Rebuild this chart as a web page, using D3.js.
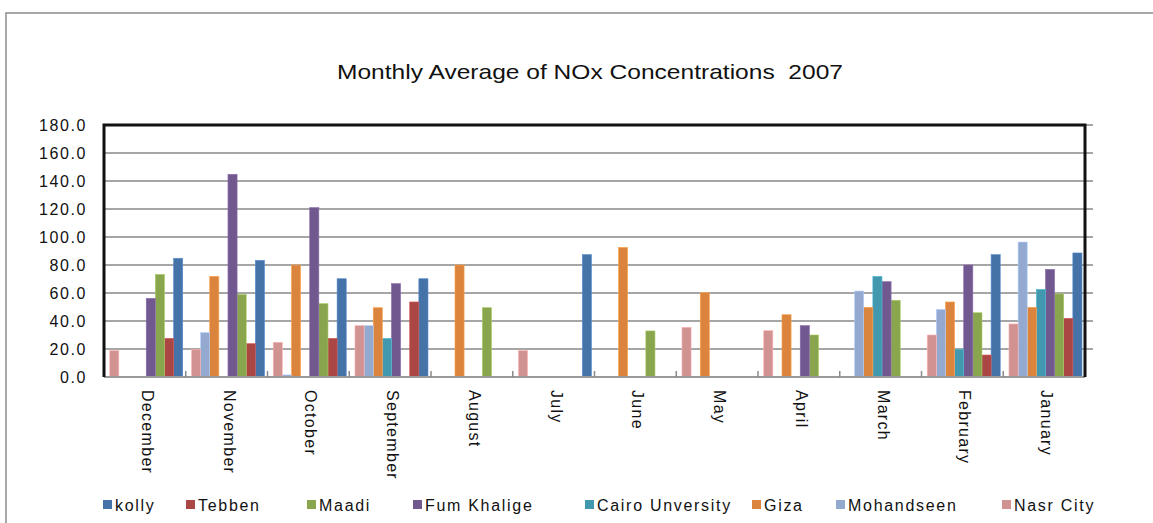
<!DOCTYPE html>
<html>
<head>
<meta charset="utf-8">
<script src="https://cdn.jsdelivr.net/npm/d3@7"></script>
<style>
  html, body { margin: 0; padding: 0; background: #fff; }
  svg { display: block; font-family: "Liberation Sans", Arial, sans-serif; }
</style>
</head>
<body>
<svg id="chart" width="1153" height="523"></svg>
<script>
// Monthly average NOx concentrations, 2007 (null = no measurement)
const months = ["December", "November", "October", "September", "August", "July",
                "June", "May", "April", "March", "February", "January"];
const seriesNames = ["kolly", "Tebben", "Maadi", "Fum Khalige", "Cairo Unversity",
                     "Giza", "Mohandseen", "Nasr City"];
const kolly          = [84.8, 83.3, 70.2, 70.2, null, 87.4, null, null, null, null, 87.4, 88.6];
const tebben         = [27.6, 23.8, 27.6, 53.6, null, null, null, null, null, null, 15.7, 41.9];
const maadi          = [73.3, 59.0, 52.4, null, 49.5, null, 32.9, null, 30.0, 54.8, 45.9, 59.3];
const fumKhalige     = [56.2, 144.8, 121.0, 66.7, null, null, null, null, 36.7, 68.1, 80.0, 76.9];
const cairoUnversity = [null, null, null, 27.6, null, null, null, null, null, 71.9, 19.8, 62.6];
const giza           = [null, 71.9, 80.0, 49.5, 80.0, null, 92.6, 60.2, 44.5, 49.8, 53.6, 49.8];
const mohandseen     = [null, 31.7, 1.5, 36.7, null, null, null, null, null, 61.4, 48.3, 96.4];
const nasrCity       = [18.8, 19.8, 24.8, 36.7, null, 18.8, null, 35.5, 33.1, null, 30.0, 37.9];
const yTicks = [0, 20, 40, 60, 80, 100, 120, 140, 160, 180];

const seriesValues = [kolly, tebben, maadi, fumKhalige, cairoUnversity, giza, mohandseen, nasrCity];
const colors = ["#4572A7", "#AA4643", "#89A54E", "#71588F", "#4198AF", "#DB843D", "#93A9CF", "#D19392"];

const svg = d3.select("#chart");
const plot = { left: 104, right: 1085, top: 125, bottom: 377 };

// outer frame
svg.append("path")
  .attr("d", `M6,523 V13 H1153`)
  .attr("fill", "none").attr("stroke", "#8c8c8c").attr("stroke-width", 1.5);

// title
svg.append("text")
  .attr("x", 337).attr("y", 79)
  .attr("font-size", 21)
  .attr("textLength", 506).attr("lengthAdjust", "spacingAndGlyphs")
  .style("white-space", "pre")
  .attr("fill", "#111")
  .text("Monthly Average of NOx Concentrations  2007");

const x0 = d3.scaleBand().domain(months).range([plot.left, plot.right]).padding(0);
const bw = x0.bandwidth();
// bars inside each month run from Nasr City (left) to kolly (right)
const x1 = d3.scaleBand().domain(seriesNames.slice().reverse())
  .range([bw * 0.07, bw * 0.963]).padding(0);
const y = d3.scaleLinear().domain([0, 180]).range([plot.bottom, plot.top]);

// gridlines (extend a little past the right edge like tick marks)
svg.append("g").selectAll("line").data(yTicks.filter(d => d > 0)).join("line")
  .attr("x1", plot.left).attr("x2", plot.right + 8)
  .attr("y1", d => y(d)).attr("y2", d => y(d))
  .attr("stroke", "#a6a6a6").attr("stroke-width", 2);

// y labels
const yAxis = d3.axisLeft(y).tickValues(yTicks).tickFormat(d3.format(".1f")).tickSize(0).tickPadding(17);
const gy = svg.append("g").attr("transform", `translate(${plot.left},0)`).call(yAxis);
gy.select(".domain").remove();
gy.selectAll("text").attr("font-size", 16).attr("fill", "#111")
  .attr("font-family", "Liberation Sans, Arial, sans-serif")
  .style("letter-spacing", "1.6px");

// bars
const rows = months.map((m, i) => ({
  month: m,
  vals: seriesNames.map((s, k) => ({ name: s, value: seriesValues[k][i], color: colors[k] }))
}));
const groups = svg.append("g").selectAll("g").data(rows).join("g")
  .attr("transform", d => `translate(${x0(d.month)},0)`);
groups.selectAll("rect").data(d => d.vals.filter(v => v.value != null)).join("rect")
  .attr("x", d => x1(d.name))
  .attr("width", x1.bandwidth())
  .attr("y", d => y(d.value))
  .attr("height", d => y(0) - y(d.value))
  .attr("fill", d => d.color)
  .attr("stroke", d => d3.color(d.color).brighter(0.6))
  .attr("stroke-width", 0.6);

// bottom axis with inward category ticks
svg.append("line")
  .attr("x1", plot.left).attr("x2", plot.right)
  .attr("y1", plot.bottom).attr("y2", plot.bottom)
  .attr("stroke", "#9a9a9a").attr("stroke-width", 2);
svg.append("g").selectAll("line").data(months.slice(1)).join("line")
  .attr("x1", d => x0(d)).attr("x2", d => x0(d))
  .attr("y1", plot.bottom - 6).attr("y2", plot.bottom)
  .attr("stroke", "#8a8a8a").attr("stroke-width", 1.5);

// month labels, rotated to read downward
svg.append("g").selectAll("text").data(months).join("text")
  .attr("transform", d => `translate(${x0(d) + bw / 2 - 3},390) rotate(90)`)
  .attr("font-size", 16)
  .style("letter-spacing", "1.3px")
  .attr("fill", "#111")
  .text(d => d);

// plot border (top, left, right)
svg.append("path")
  .attr("d", `M${plot.left},${plot.bottom} V${plot.top} H${plot.right} V${plot.bottom}`)
  .attr("fill", "none").attr("stroke", "#111").attr("stroke-width", 3);

// legend
const legendX = [103, 186, 307, 413, 585, 752, 836, 1002];
const lg = svg.append("g").selectAll("g").data(seriesNames).join("g")
  .attr("transform", (d, i) => `translate(${legendX[i]},505)`);
lg.append("rect").attr("x", 0).attr("y", -5).attr("width", 9).attr("height", 9)
  .attr("fill", (d, i) => colors[i]);
lg.append("text").attr("x", 12).attr("y", 5.5)
  .attr("font-size", 16)
  .style("letter-spacing", "1.7px")
  .attr("fill", "#111")
  .text(d => d);
</script>
</body>
</html>
